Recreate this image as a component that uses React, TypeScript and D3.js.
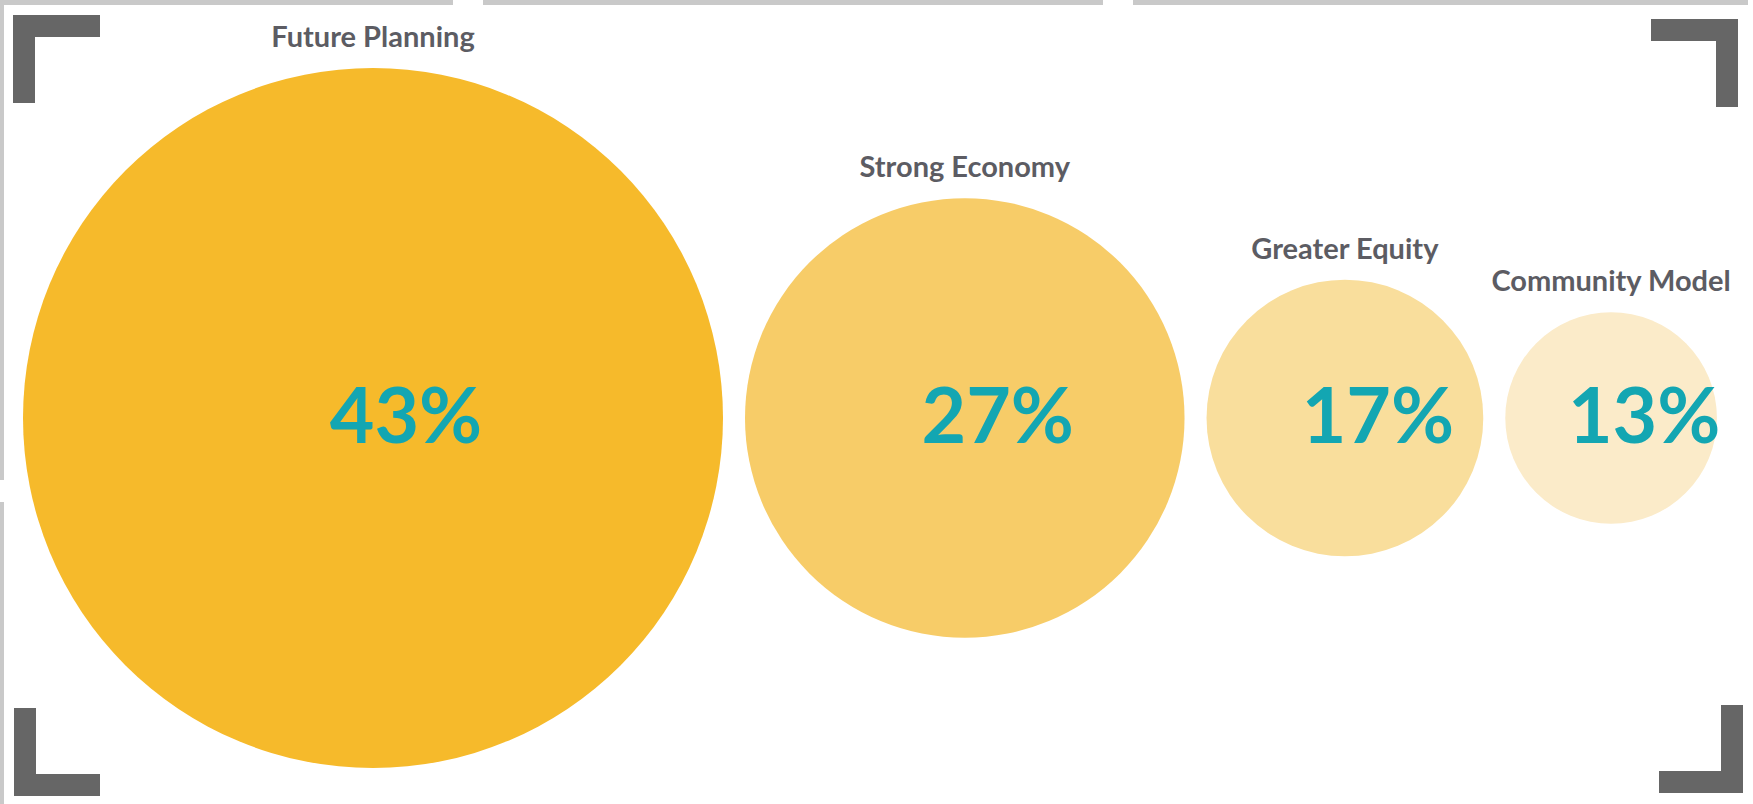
import * as d3 from 'd3'
import { useEffect, useRef } from 'react'

const categories = ['Future Planning', 'Strong Economy', 'Greater Equity', 'Community Model']
const shares = [43, 27, 17, 13]
const shareLabels = ['43%', '27%', '17%', '13%']
const fills = ['#F6BA2B', '#F7CC68', '#F9DE9C', '#FBEBC9']

export default function App() {
    const svgRef = useRef<SVGSVGElement>(null)

    useEffect(() => {
        makeChart(svgRef)
    }, [])

    function makeChart(svgRef: React.RefObject<SVGSVGElement>) {
        const width = 1753
        const height = 804
        const cy = 418
        const gap = 22
        const startX = 23

        const svg = d3.select(svgRef.current).attr('width', width).attr('height', height)
        svg.selectAll('*').remove()

        svg.append('rect').attr('width', width).attr('height', height).attr('fill', '#fff')

        // screenshot edge strips
        const edge = svg.append('g').attr('fill', '#c9c9c9')
        edge.append('rect').attr('x', 0).attr('y', 0).attr('width', 453).attr('height', 5)
        edge.append('rect').attr('x', 483).attr('y', 0).attr('width', 620).attr('height', 5)
        edge.append('rect').attr('x', 1133).attr('y', 0).attr('width', 615).attr('height', 5)
        edge.append('rect').attr('x', 0).attr('y', 0).attr('width', 4).attr('height', 480)
        edge.append('rect').attr('x', 0).attr('y', 502).attr('width', 4).attr('height', 302)

        // corner brackets
        const t = 22
        const brackets = svg.append('g').attr('fill', '#666666')
        const corner = (x: number, y: number, w: number, h: number, flipX: boolean, flipY: boolean) => {
            const hy = flipY ? y + h - t : y
            const vx = flipX ? x + w - t : x
            brackets.append('rect').attr('x', x).attr('y', hy).attr('width', w).attr('height', t)
            brackets.append('rect').attr('x', vx).attr('y', y).attr('width', t).attr('height', h)
        }
        corner(13, 15, 87, 88, false, false)
        corner(1651, 19, 87, 88, true, false)
        corner(14, 708, 86, 88, false, true)
        corner(1659, 705, 84, 88, true, true)

        const rScale = d3.scaleLinear().domain([0, 43]).range([0, 350])

        let cursor = startX
        const nodes = shares.map((v, i) => {
            const r = rScale(v)
            const cx = cursor + r
            cursor = cx + r + gap
            return { name: categories[i], label: shareLabels[i], fill: fills[i], r, cx }
        })

        const g = svg.append('g')
        g.selectAll('circle')
            .data(nodes)
            .enter()
            .append('circle')
            .attr('cx', d => d.cx)
            .attr('cy', cy)
            .attr('r', d => d.r)
            .attr('fill', d => d.fill)

        g.selectAll('text.pct')
            .data(nodes)
            .enter()
            .append('text')
            .attr('class', 'pct')
            .attr('x', d => d.cx + 33)
            .attr('y', cy + 25)
            .attr('text-anchor', 'middle')
            .attr('font-family', 'Lato, "Open Sans", sans-serif')
            .attr('font-weight', 700)
            .attr('font-size', 77)
            .attr('fill', '#13A6B2')
            .text(d => d.label)

        g.selectAll('text.name')
            .data(nodes)
            .enter()
            .append('text')
            .attr('class', 'name')
            .attr('x', d => d.cx)
            .attr('y', d => cy - d.r - 21)
            .attr('text-anchor', 'middle')
            .attr('font-family', 'Lato, "Open Sans", sans-serif')
            .attr('font-weight', 700)
            .attr('font-size', 29)
            .attr('fill', '#5c5c63')
            .text(d => d.name)
    }

    return (
        <svg ref={svgRef} style={{ position: 'absolute', left: 0, top: 0, display: 'block' }}></svg>
    )
}
